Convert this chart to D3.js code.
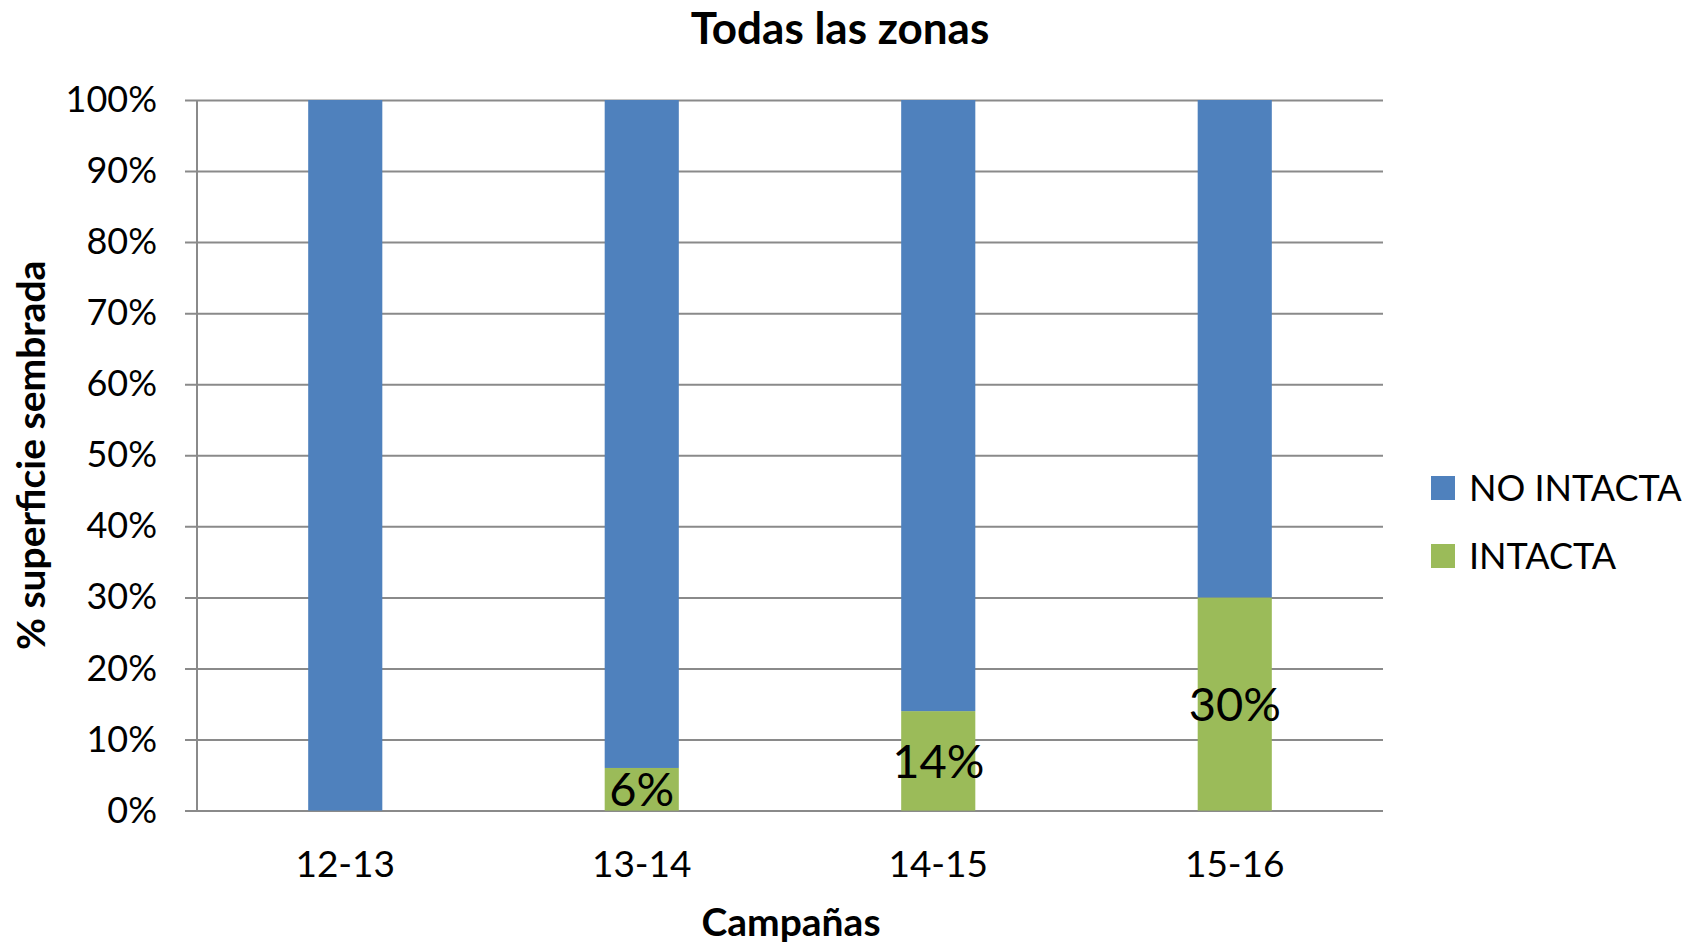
<!DOCTYPE html>
<html>
<head>
<meta charset="utf-8">
<script src="https://cdn.jsdelivr.net/npm/d3@7"></script>
<style>
  html, body { margin: 0; padding: 0; background: #fff; }
  svg { display: block; font-family: Lato, "Open Sans", sans-serif; }
</style>
</head>
<body>
<svg id="chart" width="1688" height="946"></svg>
<script>
// Campaigns on the x axis
const campaigns = ["12-13", "13-14", "14-15", "15-16"];
// Share of sown surface (%) per campaign
const intacta = [0, 6, 14, 30];
const noIntacta = [100, 94, 86, 70];
// Series names and colours (stack order: bottom first)
const seriesNames = ["INTACTA", "NO INTACTA"];
const seriesColors = ["#9BBB59", "#4F81BD"];
const yTicks = [0, 10, 20, 30, 40, 50, 60, 70, 80, 90, 100];

const svg = d3.select("#chart");
const plot = { left: 197, right: 1383, top: 100, bottom: 810.6 };

const x = d3.scaleBand()
  .domain(campaigns)
  .range([plot.left, plot.right])
  .paddingInner(0.75)
  .paddingOuter(0.375);

const y = d3.scaleLinear().domain([0, 100]).range([plot.bottom, plot.top]);

const rows = campaigns.map((c, i) => ({ campaign: c, INTACTA: intacta[i], "NO INTACTA": noIntacta[i] }));
const stacked = d3.stack().keys(seriesNames)(rows);
const color = d3.scaleOrdinal().domain(seriesNames).range(seriesColors);

// Gridlines with short ticks left of the axis
const grid = svg.append("g")
  .attr("transform", `translate(${plot.left},0)`)
  .call(d3.axisLeft(y).tickValues(yTicks).tickSize(-(plot.right - plot.left)).tickFormat(""));
grid.select(".domain").remove();
grid.selectAll(".tick line").attr("stroke", "#8a8a8a").attr("stroke-width", 2)
  .attr("x1", -12).attr("x2", plot.right - plot.left);

// Y axis line
svg.append("line")
  .attr("x1", plot.left).attr("x2", plot.left)
  .attr("y1", plot.top).attr("y2", plot.bottom)
  .attr("stroke", "#8a8a8a").attr("stroke-width", 2);

// Y tick labels
const yAxis = svg.append("g")
  .attr("transform", `translate(${plot.left},0)`)
  .call(d3.axisLeft(y).tickValues(yTicks).tickSize(0).tickPadding(40).tickFormat(d => d + "%"));
yAxis.select(".domain").remove();
yAxis.selectAll("text").attr("font-family", "Lato").attr("font-size", 36).attr("fill", "#000");

// Stacked bars
svg.append("g").selectAll("g")
  .data(stacked)
  .join("g")
  .attr("fill", d => color(d.key))
  .selectAll("rect")
  .data(d => d)
  .join("rect")
  .attr("x", d => x(d.data.campaign))
  .attr("width", x.bandwidth())
  .attr("y", d => y(d[1]))
  .attr("height", d => y(d[0]) - y(d[1]));

// Value labels for the INTACTA segments
svg.append("g").selectAll("text")
  .data(stacked[0].filter(d => d[1] - d[0] > 0))
  .join("text")
  .attr("x", d => x(d.data.campaign) + x.bandwidth() / 2)
  .attr("y", d => y((d[0] + d[1]) / 2))
  .attr("dy", "0.36em")
  .attr("text-anchor", "middle")
  .attr("font-size", 47)
  .attr("fill", "#000")
  .text(d => (d[1] - d[0]) + "%");

// X tick labels
const xAxis = svg.append("g")
  .attr("transform", `translate(0,${plot.bottom})`)
  .call(d3.axisBottom(x).tickSize(0).tickPadding(40));
xAxis.select(".domain").remove();
xAxis.selectAll("text").attr("font-family", "Lato").attr("font-size", 37).attr("fill", "#000");

// Title
svg.append("text")
  .attr("x", 840).attr("y", 44)
  .attr("text-anchor", "middle")
  .attr("font-size", 44).attr("font-weight", "bold")
  .text("Todas las zonas");

// Axis titles
svg.append("text")
  .attr("x", 791).attr("y", 936)
  .attr("text-anchor", "middle")
  .attr("font-size", 39).attr("font-weight", "bold")
  .text("Campañas");

svg.append("text")
  .attr("transform", `translate(45,${(plot.top + plot.bottom) / 2}) rotate(-90)`)
  .attr("text-anchor", "middle")
  .attr("font-size", 39).attr("font-weight", "bold")
  .text("% superficie sembrada");

// Legend (NO INTACTA listed first)
const legendItems = seriesNames.slice().reverse();
const legend = svg.append("g").selectAll("g")
  .data(legendItems)
  .join("g")
  .attr("transform", (d, i) => `translate(1431,${476 + i * 68})`);
legend.append("rect").attr("width", 24).attr("height", 24).attr("fill", d => color(d));
legend.append("text")
  .attr("x", 38).attr("y", 12).attr("dy", "0.36em")
  .attr("font-size", 36)
  .text(d => d);
</script>
</body>
</html>
